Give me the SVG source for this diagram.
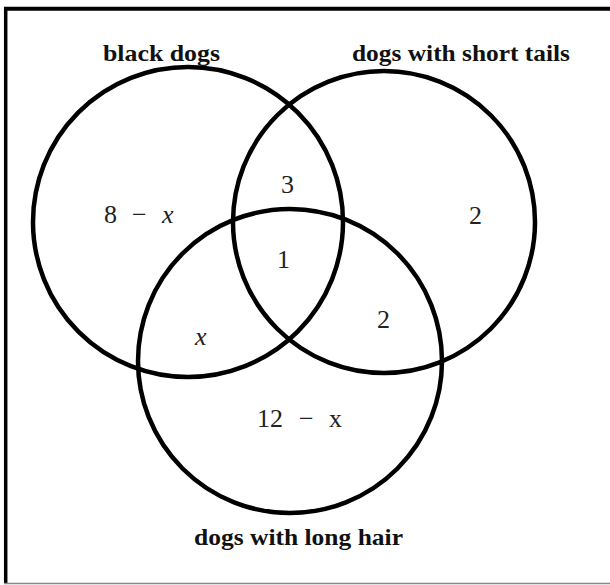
<svg xmlns="http://www.w3.org/2000/svg" width="610" height="585" viewBox="0 0 610 585">
<style>
.c{fill:none;stroke:#000;stroke-width:4.5}
.lbl{font-family:"Liberation Serif","Times New Roman",serif;font-size:24px;font-weight:bold;fill:#111}
.num{font-family:"Liberation Serif","Times New Roman",serif;font-size:26px;fill:#222}
.it{font-style:italic}
</style>
<rect width="610" height="585" fill="#fff"/>
<g id="frame">
<line x1="4" y1="8.7" x2="610" y2="8.7" stroke="#000" stroke-width="4"/>
<line x1="5.7" y1="7" x2="5.7" y2="583" stroke="#000" stroke-width="3.5"/>
<line x1="4" y1="583.5" x2="610" y2="583.5" stroke="#888" stroke-width="1.5"/>
</g>
<g id="black-dogs">
<circle class="c" cx="188" cy="222" r="155"/>
<text class="lbl" x="103" y="61" textLength="117" lengthAdjust="spacingAndGlyphs">black dogs</text>
</g>
<g id="short-tails">
<circle class="c" cx="384" cy="222" r="151"/>
<text class="lbl" x="352" y="61" textLength="218" lengthAdjust="spacingAndGlyphs">dogs with short tails</text>
</g>
<g id="long-hair">
<circle class="c" cx="290" cy="361" r="152"/>
<text class="lbl" x="194" y="545" textLength="209" lengthAdjust="spacingAndGlyphs">dogs with long hair</text>
</g>
<g id="regions">
<text class="num" y="223"><tspan x="104">8</tspan><tspan x="132">−</tspan><tspan x="162" class="it">x</tspan></text>
<text class="num it" x="195" y="345">x</text>
<text class="num" x="281" y="193">3</text>
<text class="num" x="277" y="268">1</text>
<text class="num" x="377" y="328">2</text>
<text class="num" x="469" y="224">2</text>
<text class="num" y="427"><tspan x="257">12</tspan><tspan x="299">−</tspan><tspan x="329">x</tspan></text>
</g>
<g id="connectors"></g>
</svg>
